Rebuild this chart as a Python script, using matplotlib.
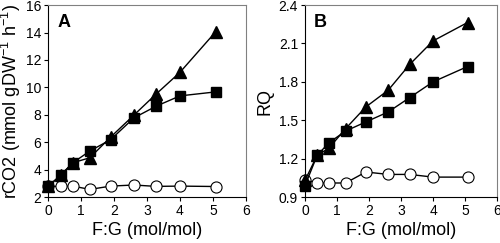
import matplotlib.pyplot as plt

plt.rcParams['font.family'] = ['Liberation Sans', 'DejaVu Sans']
plt.rcParams['mathtext.fontset'] = 'custom'
plt.rcParams['mathtext.rm'] = 'Liberation Sans'

# F:G ratio (mol/mol)
fg = [0, 0.38, 0.75, 1.27, 1.9, 2.6, 3.27, 4.0, 5.08]

# Panel A: rCO2
rco2_tri = [2.78, 3.58, 4.5, 4.87, 6.38, 7.97, 9.5, 11.1, 14.05]
rco2_sq = [2.78, 3.58, 4.5, 5.36, 6.19, 7.77, 8.62, 9.38, 9.67]
rco2_circ = [2.78, 2.78, 2.8, 2.56, 2.8, 2.88, 2.78, 2.8, 2.77]

# Panel B: RQ
rq_tri = [1.03, 1.226, 1.283, 1.435, 1.604, 1.735, 1.936, 2.12, 2.264]
rq_sq = [0.99, 1.226, 1.325, 1.416, 1.487, 1.565, 1.677, 1.80, 1.92]
rq_circ = [1.036, 1.01, 1.01, 1.01, 1.096, 1.077, 1.077, 1.056, 1.056]

fig = plt.figure(figsize=(5, 2.43), dpi=100)
axA = fig.add_axes([0.096, 0.189, 0.396, 0.79])
axB = fig.add_axes([0.61, 0.189, 0.384, 0.79])


def style(ax):
    for s in ['top', 'right']:
        ax.spines[s].set_color('#808080')
    for s in ['left', 'bottom']:
        ax.spines[s].set_color('black')
    for s in ax.spines.values():
        s.set_linewidth(0.8)
    ax.tick_params(direction='out', length=3, width=0.8, labelsize=10, pad=2)
    ax.tick_params(top=False, right=False)
    ax.set_xlim(0, 6)
    ax.set_xticks(range(0, 7))
    ax.set_xlabel('F:G (mol/mol)', fontsize=13, labelpad=3)


def series(ax, tri, sq, circ):
    ax.plot(fg, circ, '-o', color='black', mfc='white', mec='black', ms=8, lw=1, mew=0.8, clip_on=False)
    ax.plot(fg, sq, '-s', color='black', ms=7, lw=1, clip_on=False)
    ax.plot(fg, tri, '-^', color='black', ms=8, lw=1, clip_on=False)


series(axA, rco2_tri, rco2_sq, rco2_circ)
style(axA)
axA.set_ylim(2, 16)
axA.set_yticks(range(2, 17, 2))
axA.set_ylabel('rCO2 (mmol gDW$^{\\mathregular{-1}}$ h$^{\\mathregular{-1}}$)', fontsize=13, labelpad=2)
axA.text(0.05, 0.91, 'A', transform=axA.transAxes, fontsize=13, fontweight='bold', va='center')

series(axB, rq_tri, rq_sq, rq_circ)
style(axB)
axB.set_ylim(0.9, 2.4)
axB.set_yticks([0.9, 1.2, 1.5, 1.8, 2.1, 2.4])
axB.set_yticklabels(['0.9', '1.2', '1.5', '1.8', '2.1', '2.4'])
axB.set_ylabel('RQ', fontsize=13, labelpad=4)
axB.text(0.045, 0.91, 'B', transform=axB.transAxes, fontsize=13, fontweight='bold', va='center')

fig.savefig('out.png', dpi=100)
